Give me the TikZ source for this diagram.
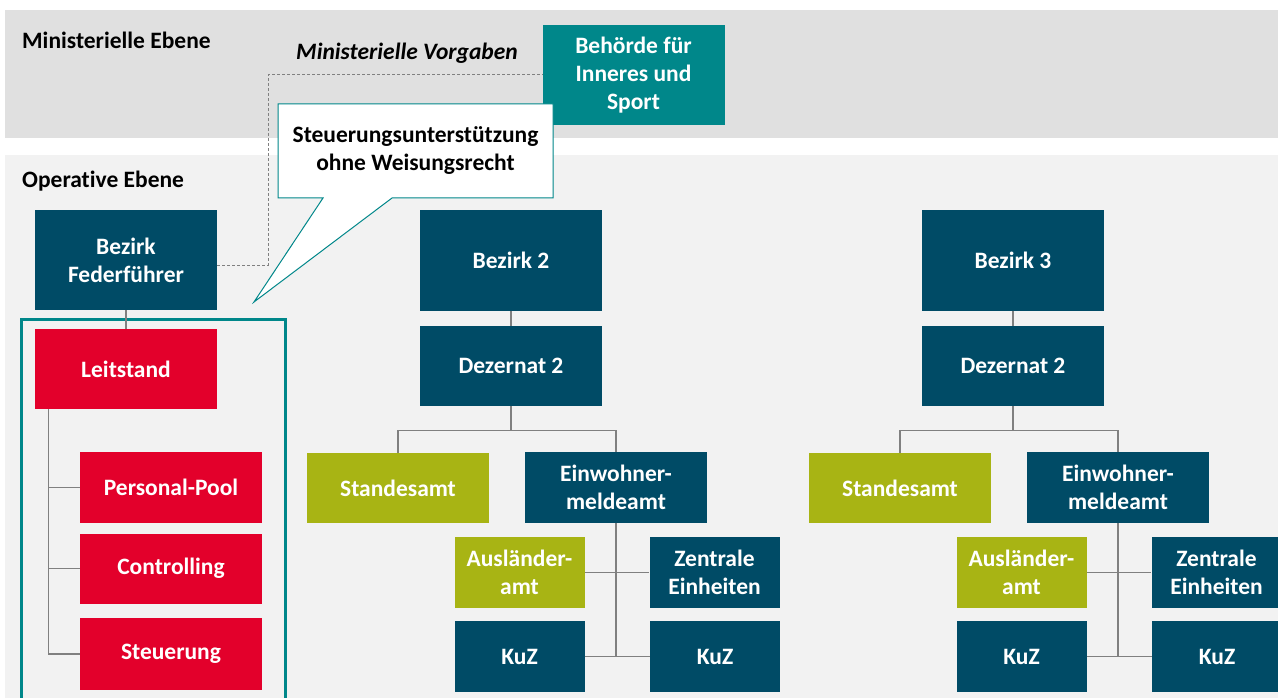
\documentclass[tikz,border=0pt]{standalone}
\usepackage{fontspec}
\setmainfont{Carlito}[Ligatures={NoCommon}]
\usetikzlibrary{calc}
\definecolor{dblue}{RGB}{0,75,102}
\definecolor{teal}{RGB}{0,135,138}
\definecolor{cred}{RGB}{227,0,43}
\definecolor{olive}{RGB}{168,180,20}
\definecolor{bandtop}{RGB}{224,224,224}
\definecolor{bandop}{RGB}{242,242,242}
\definecolor{conn}{RGB}{128,128,128}
\tikzset{
  box/.style={inner sep=2pt, align=center, text=white,
    font=\fontsize{23.5}{28}\selectfont\bfseries},
  wide/.style={box, minimum width=182, minimum height=100},
  mid/.style={box, minimum width=182, minimum height=72},
  narrow/.style={box, minimum width=130, minimum height=72},
  link/.style={draw=conn, line width=1.1pt},
  dashlink/.style={draw=conn, line width=1pt, dash pattern=on 3pt off 2pt},
  bandlabel/.style={anchor=west, inner sep=0pt, font=\fontsize{23.5}{28}\selectfont\bfseries},
}
\begin{document}
\begin{tikzpicture}[x=1pt, y=-1pt]
\useasboundingbox (0,0) rectangle (1278,698);
\clip (0,0) rectangle (1278,698);
\fill[white] (0,0) rectangle (1278,698);

% level bands
\fill[bandtop] (5,10) rectangle (1278,138);
\fill[bandop] (5,155) rectangle (1278,698);
\node[bandlabel] (lvlmin) at (22,40) {Ministerielle Ebene};
\node[bandlabel] (lvlop) at (22,181) {Operative Ebene};

% ministry
\node[wide, fill=teal, minimum height=100] (bis) at (633.5,75) {Behörde für\\Inneres und\\Sport};
\node[inner sep=0pt, font=\fontsize{23.5}{28}\selectfont\bfseries\itshape] (vorg) at (407,53) {Ministerielle Vorgaben};

% lead district
\node[wide, fill=dblue] (bzf) at (126,260) {Bezirk\\Federführer};
\draw[dashlink] ($(bzf.east)+(0,5)$) -- (268,265) |- (bis.west);

% group frame
\draw[teal, line width=3pt] (21.5,720) |- (285.5,319.5) -- (285.5,720);

\node[mid, fill=cred, minimum height=80] (lst) at (126,369) {Leitstand};
\node[mid, fill=cred, minimum height=71] (pp) at (171,487.5) {Personal-Pool};
\node[mid, fill=cred, minimum height=70] (ctl) at (171,568.5) {Controlling};
\node[mid, fill=cred, minimum height=72] (stg) at (171,654) {Steuerung};
\draw[link] (bzf.south) -- (lst.north);
\draw[link] (lst.south west) ++(14,0) |- (pp.west);
\draw[link] (lst.south west) ++(14,0) |- (ctl.west);
\draw[link] (lst.south west) ++(14,0) |- (stg.west);

% districts 2 and 3
\foreach \c/\dx in {2/0, 3/502}{
  \begin{scope}[xshift=\dx]
  \node[wide, fill=dblue] (bz\c) at (511,260.5) {Bezirk \c};
  \node[mid, fill=dblue, minimum height=80] (dz\c) at (511,366) {Dezernat 2};
  \node[mid, fill=olive, minimum height=70] (sa\c) at (398,488) {Standesamt};
  \node[mid, fill=dblue, minimum height=71] (ew\c) at (616,487.5) {Einwohner-\\meldeamt};
  \node[narrow, fill=olive, minimum height=71] (al\c) at (519.5,572.5) {Ausländer-\\amt};
  \node[narrow, fill=dblue, minimum height=71] (ze\c) at (714.5,572.5) {Zentrale\\Einheiten};
  \node[narrow, fill=dblue, minimum height=71] (kl\c) at (519.5,656.5) {KuZ};
  \node[narrow, fill=dblue, minimum height=71] (kr\c) at (715,656.5) {KuZ};
  \end{scope}
  \draw[link] (bz\c.south) -- (dz\c.north);
  \draw[link] (dz\c.south) -- ++(0,24) -| (sa\c.north);
  \draw[link] (dz\c.south) -- ++(0,24) -| (ew\c.north);
  \draw[link] (ew\c.south) -- (ew\c.south |- kl\c.east);
  \draw[link] (al\c.east) -- (ze\c.west);
  \draw[link] (kl\c.east) -- (kr\c.west);
}

% callout
\draw[teal, fill=white, line width=1pt] (278,104) -- (553,104) -- (553,198) -- (392,198)
  -- (254,302) -- (323,198) -- (278,198) -- cycle;
\node[align=center, inner sep=0pt, font=\fontsize{23.5}{28}\selectfont\bfseries] (hint) at (415.5,151)
  {Steuerungsunterstützung\\ohne Weisungsrecht};
\end{tikzpicture}
\end{document}
